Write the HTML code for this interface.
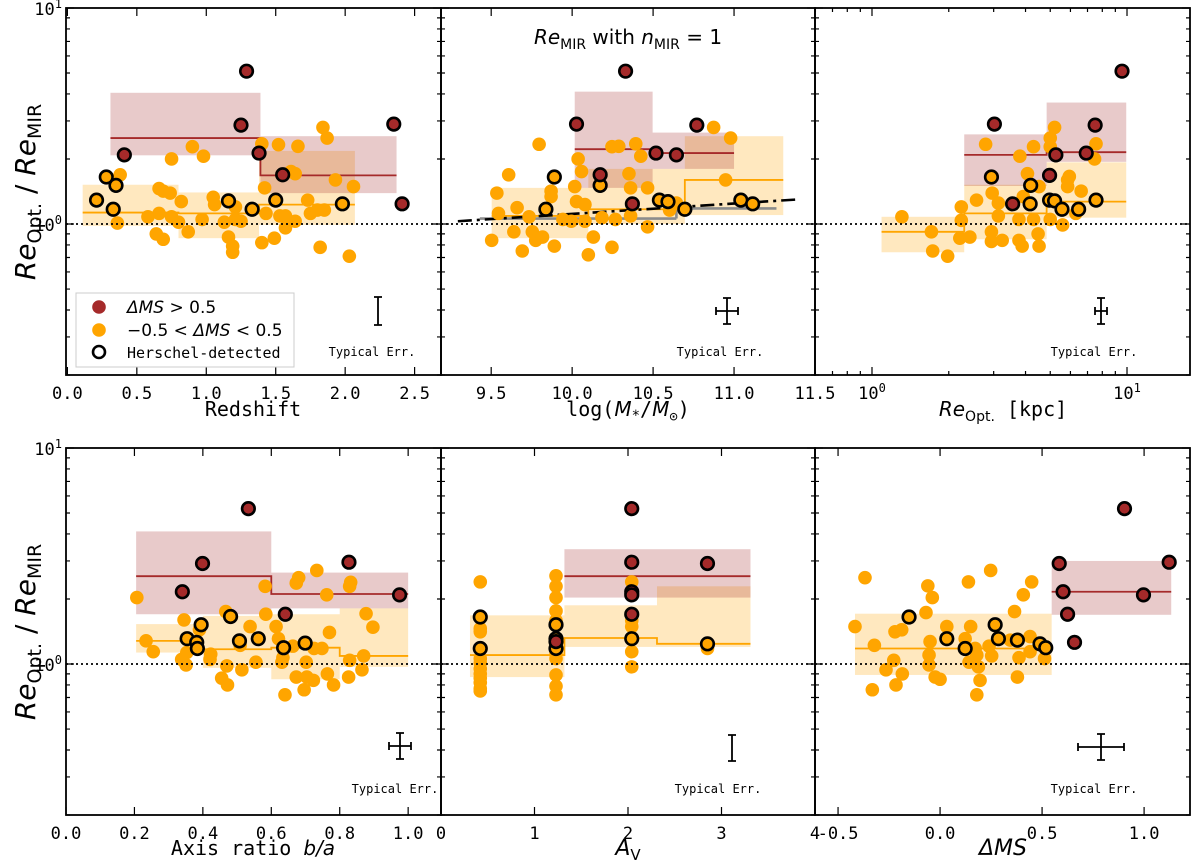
<!DOCTYPE html>
<html><head><meta charset="utf-8">
<style>
body{margin:0;background:#fff}
svg{display:block}
text{font-family:"DejaVu Sans Mono","Liberation Mono",monospace;fill:#000}
.it{font-family:"DejaVu Sans","Liberation Sans",sans-serif;font-style:italic}
.rm{font-family:"DejaVu Sans","Liberation Sans",sans-serif}
</style></head>
<body>
<svg id="fig" width="1200" height="860" viewBox="0 0 1200 860" xmlns="http://www.w3.org/2000/svg"></svg>
<script>
// ---- Panel 1: redshift ----
const p1RedX=[1.29,1.25,0.41,1.38,1.55,2.35,2.41];
const p1RedY=[5.1,2.87,2.09,2.13,1.69,2.9,1.24];
const p1HerX=[0.28,0.35,0.21,0.33,1.16,1.33,1.50,1.98];
const p1HerY=[1.65,1.51,1.29,1.17,1.28,1.17,1.29,1.24];
const p1OrX=[0.38,0.36,0.58,0.66,0.64,0.69,0.66,0.69,0.74,0.75,0.75,0.80,0.82,0.87,0.90,0.98,0.97,1.05,1.06,1.13,1.16,1.19,1.19,1.21,1.21,1.25,1.40,1.42,1.43,1.40,1.49,1.52,1.53,1.57,1.57,1.61,1.64,1.64,1.66,1.73,1.75,1.80,1.85,1.84,1.87,1.93,2.06,1.82,2.03];
const p1OrY=[1.69,1.01,1.08,1.12,0.90,0.85,1.46,1.42,1.39,2.0,1.08,1.02,1.27,0.92,2.28,2.06,1.05,1.33,1.23,1.02,0.87,0.79,0.74,1.2,1.05,1.03,2.35,1.47,1.12,0.82,0.86,2.33,1.09,1.09,0.96,1.75,1.71,1.03,2.29,1.29,1.12,1.16,1.16,2.8,2.5,1.6,1.49,0.78,0.71];
const p1OrBinLo=[0.11,0.80,1.38], p1OrBinHi=[0.80,1.38,2.07];
const p1OrQ16=[0.98,0.86,0.99], p1OrMed=[1.13,1.12,1.23], p1OrQ84=[1.52,1.40,2.18];
const p1RdBinLo=[0.31,1.39], p1RdBinHi=[1.39,2.37];
const p1RdQ16=[2.08,1.39], p1RdMed=[2.5,1.68], p1RdQ84=[4.05,2.55];
// ---- Panel 2: stellar mass ----
const p2RedX=[10.330,10.027,10.173,10.372,10.518,10.644,10.770];
const p2RedY=[5.1,2.9,1.69,1.24,2.13,2.09,2.87];
const p2HerX=[9.890,9.838,10.173,10.539,10.592,10.696,11.042,11.115];
const p2HerY=[1.65,1.17,1.51,1.29,1.27,1.17,1.29,1.24];
const p2OrX=[9.796,9.608,9.535,9.545,9.503,9.660,9.640,9.692,9.734,9.754,9.775,9.817,9.870,9.870,9.890,9.943,9.995,10.016,10.027,10.037,10.058,10.079,10.079,10.100,10.131,10.184,10.246,10.267,10.246,10.288,10.351,10.361,10.361,10.393,10.424,10.466,10.466,10.644,10.874,10.948,10.979,10.602];
const p2OrY=[2.34,1.69,1.39,1.12,0.84,1.19,0.92,0.75,1.08,0.92,0.84,0.87,1.42,1.34,0.79,1.05,1.03,1.49,1.27,2.0,1.75,1.23,1.03,0.72,0.87,1.07,2.28,1.05,0.78,2.29,1.71,1.47,1.09,2.35,2.06,1.47,0.97,1.25,2.8,1.6,2.5,1.16];
const p2OrBinLo=[9.503,10.100,10.696], p2OrBinHi=[10.100,10.696,11.304];
const p2OrQ16=[0.86,1.0,1.1], p2OrMed=[1.09,1.17,1.6], p2OrQ84=[1.47,1.80,2.55];
const p2RdBinLo=[10.016,10.497], p2RdBinHi=[10.497,11.0];
const p2RdQ16=[1.47,1.8], p2RdMed=[2.22,2.13], p2RdQ84=[4.1,2.65];
const p2GrayLo=[9.43,10.644], p2GrayHi=[10.644,11.262], p2GrayVal=[1.06,1.18];
const p2FitX=[9.294,11.398], p2FitY=[1.03,1.30];
// ---- Panel 3: optical size ----
const p3RedX=[9.56,3.02,3.56,5.26,4.97,6.92,7.5];
const p3RedY=[5.1,2.9,1.24,2.09,1.68,2.13,2.87];
const p3HerX=[2.94,4.19,4.17,4.97,5.2,5.56,6.46,7.56];
const p3HerY=[1.65,1.51,1.24,1.29,1.28,1.17,1.17,1.29];
const p3OrX=[1.31,1.71,1.73,1.98,2.24,2.24,2.21,2.42,2.57,2.79,2.96,3.13,3.13,2.94,2.94,3.24,3.77,3.77,3.8,3.88,4.07,3.92,4.3,4.3,4.48,4.52,4.52,5.0,5.0,5.2,5.0,5.59,5.85,5.85,5.94,6.61,6.3,7.56,7.46];
const p3OrY=[1.08,0.92,0.75,0.71,1.2,1.04,0.86,0.87,1.29,2.34,1.39,1.25,1.09,0.92,0.83,0.84,1.05,0.84,2.06,0.79,1.71,1.34,2.28,1.05,0.9,0.79,1.49,2.5,2.28,2.8,1.05,0.99,1.6,1.49,1.66,1.42,1.12,2.35,2.0];
const p3OrBinLo=[1.09,2.3,4.84], p3OrBinHi=[2.3,4.84,9.93];
const p3OrQ16=[0.74,0.85,1.07], p3OrMed=[0.92,1.12,1.27], p3OrQ84=[1.08,1.52,1.93];
const p3RdBinLo=[2.3,4.84], p3RdBinHi=[4.84,9.93];
const p3RdQ16=[1.5,1.94], p3RdMed=[2.09,2.15], p3RdQ84=[2.6,3.65];
// ---- Panel 4: axis ratio ----
const p4RedX=[0.533,0.399,0.340,0.641,0.827,0.975];
const p4RedY=[5.24,2.92,2.16,1.70,2.96,2.09];
const p4HerX=[0.395,0.481,0.354,0.382,0.384,0.507,0.562,0.636,0.699];
const p4HerY=[1.52,1.66,1.31,1.26,1.18,1.28,1.31,1.19,1.25];
const p4OrX=[0.207,0.234,0.255,0.345,0.353,0.338,0.351,0.39,0.423,0.421,0.467,0.470,0.455,0.472,0.514,0.509,0.538,0.555,0.582,0.584,0.614,0.621,0.634,0.631,0.640,0.663,0.673,0.680,0.673,0.702,0.704,0.723,0.696,0.733,0.725,0.748,0.762,0.770,0.764,0.782,0.832,0.829,0.829,0.826,0.870,0.865,0.877,0.897];
const p4OrY=[2.03,1.28,1.14,1.60,1.13,1.05,0.99,1.44,1.11,1.05,1.75,0.98,0.86,0.80,0.94,1.22,1.49,1.02,2.29,1.70,1.49,1.31,1.07,1.02,0.72,1.21,2.37,2.51,0.87,1.02,0.87,0.84,0.76,2.71,1.18,1.18,2.09,1.40,0.90,0.80,2.39,2.29,1.04,0.87,1.09,0.94,1.71,1.48];
const p4OrBinLo=[0.205,0.40,0.60,0.80], p4OrBinHi=[0.40,0.60,0.80,1.0];
const p4OrQ16=[1.13,0.96,0.85,0.97], p4OrMed=[1.28,1.17,1.19,1.09], p4OrQ84=[1.53,1.67,1.7,1.81];
const p4RdBinLo=[0.205,0.60], p4RdBinHi=[0.60,1.0];
const p4RdQ16=[1.70,1.81], p4RdMed=[2.55,2.11], p4RdQ84=[4.11,2.65];
// ---- Panel 5: Av ----
const p5RedX=[2.04,2.04,2.04,2.04,2.04,2.85,1.23];
const p5RedY=[5.24,2.96,2.16,2.09,1.70,2.92,1.27];
const p5HerX=[0.42,0.42,1.23,1.23,1.23,2.04,2.85];
const p5HerY=[1.65,1.18,1.52,1.31,1.18,1.31,1.24];
const p5OrX=[0.42,0.42,0.42,0.42,0.42,0.42,0.42,0.42,0.42,0.42,0.42,1.23,1.23,1.23,1.23,1.23,1.23,1.23,1.23,1.23,1.23,2.04,2.04,2.04,2.04,2.04,2.85];
const p5OrY=[2.4,1.46,1.41,1.06,1.01,0.95,0.90,0.86,0.82,0.77,0.75,2.56,2.29,2.03,1.76,1.59,1.06,1.12,0.89,0.79,0.72,2.4,1.59,1.49,1.14,0.97,1.18];
const p5OrBinLo=[0.31,1.32,2.31], p5OrBinHi=[1.32,2.31,3.31];
const p5OrQ16=[0.87,1.2,1.2], p5OrMed=[1.10,1.32,1.24], p5OrQ84=[1.68,1.87,2.29];
const p5RdBinLo=[1.32], p5RdBinHi=[3.31];
const p5RdQ16=[2.03], p5RdMed=[2.55], p5RdQ84=[3.4];
// ---- Panel 6: delta MS ----
const p6RedX=[0.904,0.584,0.603,0.625,0.659,0.997,1.123];
const p6RedY=[5.24,2.92,2.16,1.70,1.26,2.09,2.96];
const p6HerX=[-0.152,0.033,0.123,0.270,0.286,0.379,0.49,0.518];
const p6HerY=[1.65,1.31,1.18,1.52,1.31,1.29,1.24,1.19];
const p6OrX=[-0.417,-0.368,-0.322,-0.332,-0.265,-0.227,-0.221,-0.188,-0.216,-0.185,-0.069,-0.060,-0.038,-0.049,-0.054,-0.054,-0.024,0,0.033,0.123,0.139,0.15,0.172,0.18,0.142,0.188,0.196,0.18,0.248,0.24,0.253,0.365,0.344,0.387,0.379,0.408,0.441,0.441,0.449,0.512];
const p6OrY=[1.49,2.51,1.22,0.76,0.94,1.04,1.41,1.44,0.80,0.90,1.73,2.3,2.03,1.27,1.10,0.99,0.87,0.85,1.49,1.31,2.4,1.49,1.18,1.10,1.02,0.97,0.84,0.72,2.71,1.21,1.09,1.75,1.29,1.07,0.87,2.09,1.34,1.14,2.4,1.06];
const p6OrBinLo=[-0.417], p6OrBinHi=[0.547];
const p6OrQ16=[0.89], p6OrMed=[1.18], p6OrQ84=[1.71];
const p6RdBinLo=[0.547], p6RdBinHi=[1.133];
const p6RdQ16=[1.69], p6RdMed=[2.16], p6RdQ84=[3.0];
// tick labels
const p1Ticks=[0,0.5,1,1.5,2,2.5], p1TickLbl=["0.0","0.5","1.0","1.5","2.0","2.5"];
const p2Ticks=[9.5,10,10.5,11,11.5], p2TickLbl=["9.5","10.0","10.5","11.0","11.5"];
const p4Ticks=[0,0.2,0.4,0.6,0.8,1.0], p4TickLbl=["0.0","0.2","0.4","0.6","0.8","1.0"];
const p5Ticks=[0,1,2,3,4], p5TickLbl=["0","1","2","3","4"];
const p6Ticks=[-0.5,0,0.5,1.0], p6TickLbl=["-0.5","0.0","0.5","1.0"];

const NS="http://www.w3.org/2000/svg";
const svg=document.getElementById('fig');
function mk(tag,attrs,parent){const e=document.createElementNS(NS,tag);for(const k in attrs)e.setAttribute(k,attrs[k]);(parent||svg).appendChild(e);return e;}
const ORANGE="#FFA500", BROWN="#A52A2A";

const panels=[
 {name:'redshift',x0:66,x1:441,y0:8,y1:375,xd:[-0.01,2.69],log:false,ticks:p1Ticks,lbl:p1TickLbl,
  red:[p1RedX,p1RedY],her:[p1HerX,p1HerY],or:[p1OrX,p1OrY],ob:[p1OrBinLo,p1OrBinHi,p1OrQ16,p1OrMed,p1OrQ84],rb:[p1RdBinLo,p1RdBinHi,p1RdQ16,p1RdMed,p1RdQ84]},
 {name:'stellar-mass',x0:441,x1:815,y0:8,y1:375,xd:[9.19,11.5],log:false,ticks:p2Ticks,lbl:p2TickLbl,
  red:[p2RedX,p2RedY],her:[p2HerX,p2HerY],or:[p2OrX,p2OrY],ob:[p2OrBinLo,p2OrBinHi,p2OrQ16,p2OrMed,p2OrQ84],rb:[p2RdBinLo,p2RdBinHi,p2RdQ16,p2RdMed,p2RdQ84]},
 {name:'optical-size',x0:815,x1:1190,y0:8,y1:375,xd:[Math.pow(10,-0.2235),Math.pow(10,1.247)],log:true,ticks:[],lbl:[],
  red:[p3RedX,p3RedY],her:[p3HerX,p3HerY],or:[p3OrX,p3OrY],ob:[p3OrBinLo,p3OrBinHi,p3OrQ16,p3OrMed,p3OrQ84],rb:[p3RdBinLo,p3RdBinHi,p3RdQ16,p3RdMed,p3RdQ84]},
 {name:'axis-ratio',x0:66,x1:441,y0:448,y1:815,xd:[0,1.096],log:false,ticks:p4Ticks,lbl:p4TickLbl,
  red:[p4RedX,p4RedY],her:[p4HerX,p4HerY],or:[p4OrX,p4OrY],ob:[p4OrBinLo,p4OrBinHi,p4OrQ16,p4OrMed,p4OrQ84],rb:[p4RdBinLo,p4RdBinHi,p4RdQ16,p4RdMed,p4RdQ84]},
 {name:'av',x0:441,x1:815,y0:448,y1:815,xd:[0,4],log:false,ticks:p5Ticks,lbl:p5TickLbl,
  red:[p5RedX,p5RedY],her:[p5HerX,p5HerY],or:[p5OrX,p5OrY],ob:[p5OrBinLo,p5OrBinHi,p5OrQ16,p5OrMed,p5OrQ84],rb:[p5RdBinLo,p5RdBinHi,p5RdQ16,p5RdMed,p5RdQ84]},
 {name:'delta-ms',x0:815,x1:1190,y0:448,y1:815,xd:[-0.613,1.225],log:false,ticks:p6Ticks,lbl:p6TickLbl,
  red:[p6RedX,p6RedY],her:[p6HerX,p6HerY],or:[p6OrX,p6OrY],ob:[p6OrBinLo,p6OrBinHi,p6OrQ16,p6OrMed,p6OrQ84],rb:[p6RdBinLo,p6RdBinHi,p6RdQ16,p6RdMed,p6RdQ84]}
];
const YLO=Math.log10(0.2), YHI=1;

panels.forEach((p,pi)=>{
  const g=mk('g',{});
  
  
  const xs=v=>p.log? p.x0+(Math.log10(v)-Math.log10(p.xd[0]))/(Math.log10(p.xd[1])-Math.log10(p.xd[0]))*(p.x1-p.x0)
                   : p.x0+(v-p.xd[0])/(p.xd[1]-p.xd[0])*(p.x1-p.x0);
  const ys=v=>p.y1-(Math.log10(v)-YLO)/(YHI-YLO)*(p.y1-p.y0);
  const clip='clip'+pi;
  const cp=mk('clipPath',{id:clip},g); mk('rect',{x:p.x0,y:p.y0,width:p.x1-p.x0,height:p.y1-p.y0},cp);
  const inner=mk('g',{'clip-path':'url(#'+clip+')'},g);
  function bins(b,color,nm){
    const [lo,hi,q16,med,q84]=b;
    for(let i=0;i<lo.length;i++){
      const r=mk('rect',{x:xs(lo[i]),y:ys(q84[i]),width:xs(hi[i])-xs(lo[i]),height:ys(q16[i])-ys(q84[i]),fill:color,'fill-opacity':0.25},inner);
      
      
    }
  }
  function medLine(b,color,nm){
    const [lo,hi,,med]=b; let d='';
    for(let i=0;i<lo.length;i++){d+=(i?'L':'M')+xs(lo[i])+','+ys(med[i])+'L'+xs(hi[i])+','+ys(med[i]);}
    const l=mk('path',{d:d,fill:'none',stroke:color,'stroke-width':1.8},inner);
    
    
  }
  bins(p.ob,ORANGE,'orange'); bins(p.rb,BROWN,'red');
  if(pi===1){
    for(let i=0;i<p2GrayLo.length;i++){
      const gl=mk('path',{d:(i?'M'+xs(p2GrayLo[i])+','+ys(p2GrayVal[i-1])+'L':'M')+xs(p2GrayLo[i])+','+ys(p2GrayVal[i])+'L'+xs(p2GrayHi[i])+','+ys(p2GrayVal[i]),stroke:'#8c8c8c','stroke-width':2.6,fill:'none'},inner);
      
      
    }
  }
  medLine(p.ob,ORANGE,'orange'); medLine(p.rb,BROWN,'red');
  if(pi===1){
    const fl=mk('line',{x1:xs(p2FitX[0]),y1:ys(p2FitY[0]),x2:xs(p2FitX[1]),y2:ys(p2FitY[1]),stroke:'#000','stroke-width':2.6,'stroke-dasharray':'14,5,3,5'},inner);
    
    
  }
  function pts(arr,fill,stroke,nm){
    for(let i=0;i<arr[0].length;i++){
      const c=mk('circle',{cx:xs(arr[0][i]),cy:ys(arr[1][i]),r:stroke?6.3:6.8,fill:fill},inner);
      if(stroke){c.setAttribute('stroke','#000');c.setAttribute('stroke-width',2.6);}
      
      
    }
  }
  pts(p.or,ORANGE,false,'galaxy-point');
  pts(p.her,ORANGE,true,'herschel-point');
  pts(p.red,BROWN,true,'high-dms-point');
  const dl=mk('line',{x1:p.x0,x2:p.x1,y1:ys(1),y2:ys(1),stroke:'#000','stroke-width':1.8,'stroke-dasharray':'2,3'},g);
  
  
  let td='';
  for(const dec of [0.1,1]){for(let m=1;m<=9;m++){const v=dec*m; if(v<0.2-1e-9||v>10+1e-9)continue; const y=ys(v); const L=(m===1)?8:4;
    td+='M'+p.x0+','+y+'h'+L+'M'+p.x1+','+y+'h'+(-L);}}
  td+='M'+p.x0+','+ys(10)+'h8M'+p.x1+','+ys(10)+'h-8';
  if(p.log){
    for(const dec of [0.1,1,10]){for(let m=1;m<=9;m++){const v=dec*m; if(v<p.xd[0]||v>p.xd[1])continue; const x=xs(v); const L=(m===1)?8:4;
      td+='M'+x+','+p.y1+'v'+(-L)+'M'+x+','+p.y0+'v'+L;}}
  } else {
    p.ticks.forEach(t=>{const x=xs(t); td+='M'+x+','+p.y1+'v-8M'+x+','+p.y0+'v8';});
  }
  mk('path',{d:td,stroke:'#000','stroke-width':1.2,fill:'none'},g);
  const fr=mk('rect',{x:p.x0,y:p.y0,width:p.x1-p.x0,height:p.y1-p.y0,fill:'none',stroke:'#000','stroke-width':1.8},g);
  
  
  p.ticks.forEach((t,i)=>{
    const x=xs(t);
    const tl=mk('text',{x:x,y:p.y1+24,'font-size':17,'text-anchor':'middle'},g);
    tl.textContent=p.lbl[i];
    
    
  });
  if(p.log){
    [[1,'0'],[10,'1']].forEach(([v,e])=>{
      const tl=mk('text',{x:xs(v),y:p.y1+24,'font-size':17,'text-anchor':'middle'},g);
      tl.innerHTML='10<tspan dy="-7" font-size="12">'+e+'</tspan>';
      
      
    });
  }
  if(p.x0===66){
    [[10,'1'],[1,'0']].forEach(([v,e])=>{
      const tl=mk('text',{x:p.x0-4,y:ys(v)+7,'font-size':17,'text-anchor':'end'},g);
      tl.innerHTML='10<tspan dy="-7" font-size="12">'+e+'</tspan>';
      
      
    });
  }
});

function errbar(cx,cy,h,w,tx,ty){
  let d='M'+cx+','+(cy-h)+'V'+(cy+h)+'M'+(cx-4)+','+(cy-h)+'h8M'+(cx-4)+','+(cy+h)+'h8';
  if(w>0) d+='M'+(cx-w)+','+cy+'H'+(cx+w)+'M'+(cx-w)+','+(cy-4)+'v8M'+(cx+w)+','+(cy-4)+'v8';
  const e=mk('path',{d:d,stroke:'#000','stroke-width':1.8,fill:'none'});
  
  
  const t=mk('text',{x:tx,y:ty,'font-size':12,'text-anchor':'middle'});
  t.textContent='Typical Err.';
  
  
}
errbar(378,311,14,0,372,356);
errbar(727,311,13,11,720,356);
errbar(1101,311,13,6,1094,356);
errbar(400,746,13,11,395,793);
errbar(732,748,13,0,718,793);
errbar(1101,747,13,23,1094,793);
</script>
<svg width="1200" height="860" style="position:absolute;left:0;top:0" xmlns="http://www.w3.org/2000/svg">
  <g>
    <rect x="76" y="293" width="218" height="74" fill="#fff" fill-opacity="0.8" stroke="#ccc" stroke-width="1"/>
    <circle cx="99" cy="307" r="6.8" fill="#A52A2A"/>
    <text x="127" y="313" font-size="17" class="rm"><tspan class="it">ΔMS</tspan> &gt; 0.5</text>
    <circle cx="99" cy="330" r="6.8" fill="#FFA500"/>
    <text x="127" y="336" font-size="17" class="rm">−0.5 &lt; <tspan class="it">ΔMS</tspan> &lt; 0.5</text>
    <circle cx="99" cy="352" r="6" fill="none" stroke="#000" stroke-width="2.6"/>
    <text x="127" y="358" font-size="15">Herschel-detected</text>
  </g>
  <text x="628" y="44" font-size="20" text-anchor="middle" class="rm"><tspan class="it">Re</tspan><tspan font-size="14" dy="5">MIR</tspan><tspan dy="-5"> with </tspan><tspan class="it">n</tspan><tspan font-size="14" dy="5">MIR</tspan><tspan dy="-5"> = 1</tspan></text>
  <text x="253" y="416" font-size="20" text-anchor="middle">Redshift</text>
  <text x="628" y="416" font-size="20" text-anchor="middle">log(<tspan class="it">M</tspan><tspan font-size="14" dy="4">*</tspan><tspan dy="-4">/</tspan><tspan class="it">M</tspan><tspan font-size="14" dy="5">⊙</tspan><tspan dy="-5">)</tspan></text>
  <text x="1003" y="416" font-size="20" text-anchor="middle"><tspan class="it">Re</tspan><tspan font-size="14" dy="5" class="rm">Opt.</tspan><tspan dy="-5"> [kpc]</tspan></text>
  <text x="253" y="855" font-size="20" text-anchor="middle">Axis ratio <tspan class="it">b/a</tspan></text>
  <text x="628" y="855" font-size="22" text-anchor="middle"><tspan class="it">A</tspan><tspan font-size="15" dy="5" class="rm">V</tspan></text>
  <text x="1003" y="855" font-size="22" text-anchor="middle" class="it">ΔMS</text>
  <text transform="translate(35,192) rotate(-90)" font-size="28" text-anchor="middle"><tspan class="it">Re</tspan><tspan font-size="19" dy="6" class="rm">Opt.</tspan><tspan dy="-6" class="rm">  /  </tspan><tspan class="it">Re</tspan><tspan font-size="19" dy="6" class="rm">MIR</tspan></text>
  <text transform="translate(35,632) rotate(-90)" font-size="28" text-anchor="middle"><tspan class="it">Re</tspan><tspan font-size="19" dy="6" class="rm">Opt.</tspan><tspan dy="-6" class="rm">  /  </tspan><tspan class="it">Re</tspan><tspan font-size="19" dy="6" class="rm">MIR</tspan></text>
</svg>
</body></html>
